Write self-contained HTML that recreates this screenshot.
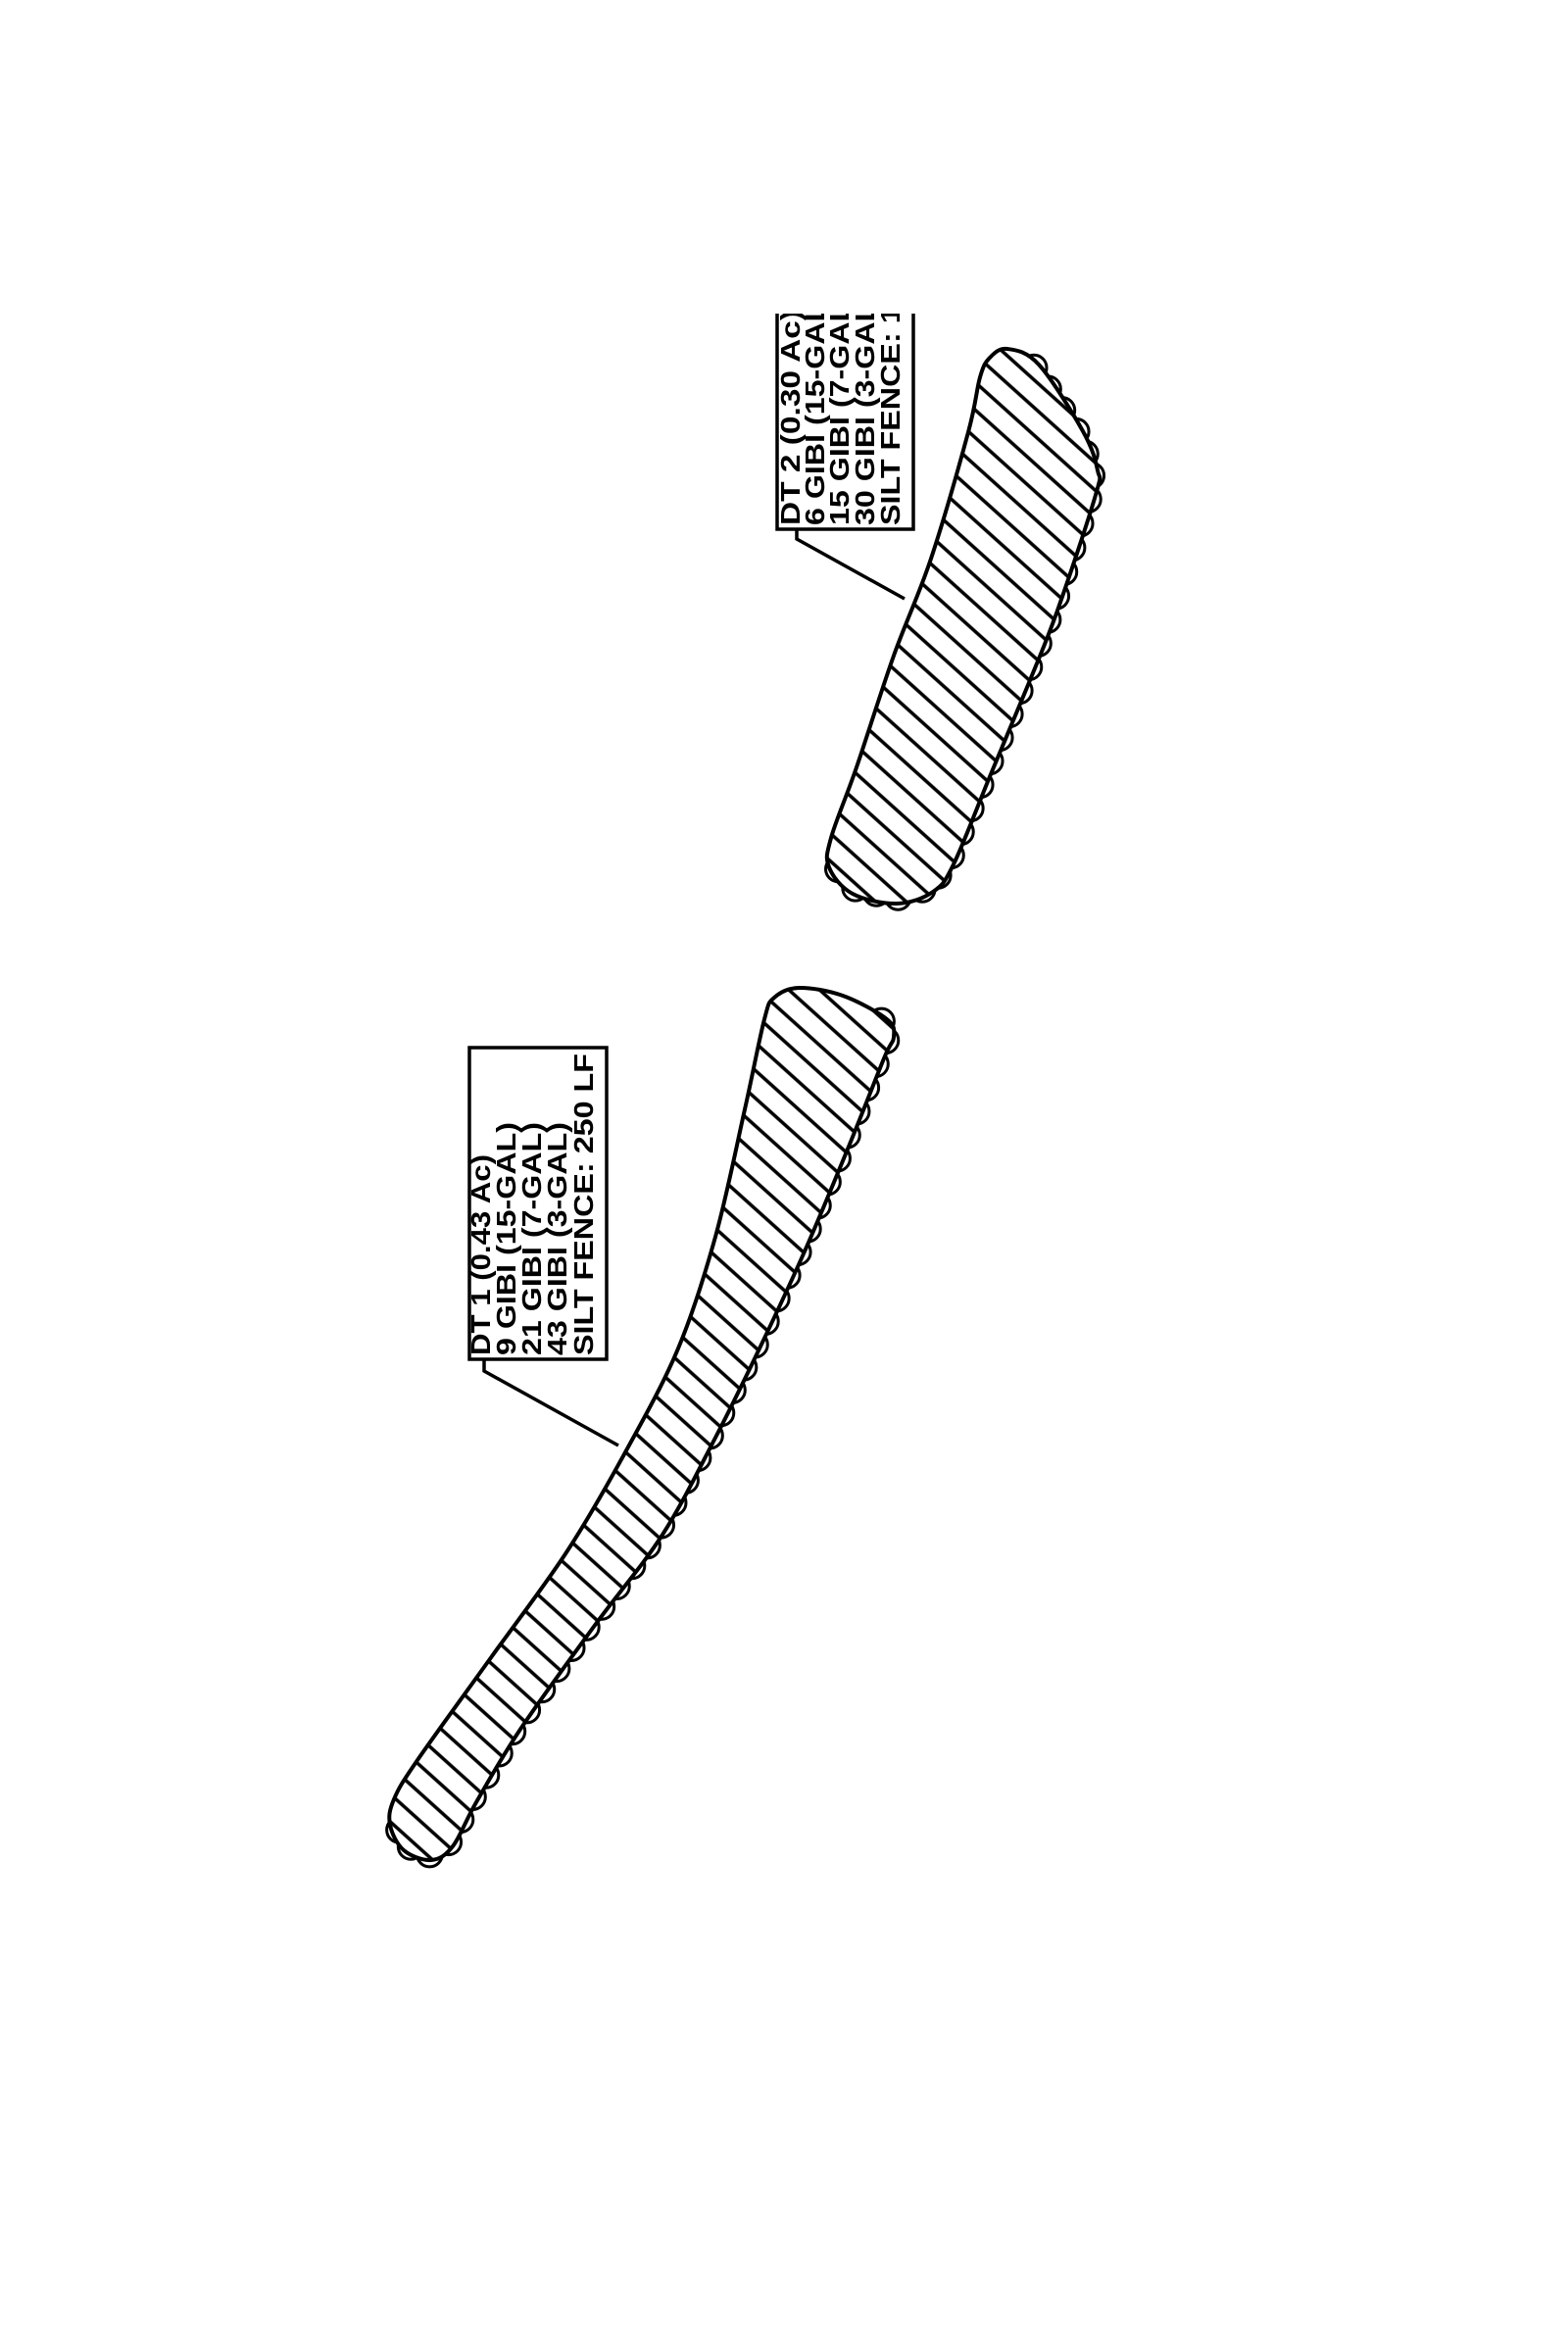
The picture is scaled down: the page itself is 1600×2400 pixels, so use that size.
<!DOCTYPE html>
<html>
<head>
<meta charset="utf-8">
<style>
  html, body { margin: 0; padding: 0; background: #fff; }
  svg { display: block; }
  text { font-family: "Liberation Sans", "DejaVu Sans", sans-serif; font-weight: bold; font-size: 28px; fill: #000; }
</style>
</head>
<body>
<svg id="plan" width="1600" height="2400" viewBox="0 0 1600 2400" xmlns="http://www.w3.org/2000/svg">
  <defs>
    <pattern id="hatch" patternUnits="userSpaceOnUse" width="21" height="21" patternTransform="rotate(42)">
      <line x1="0" y1="2" x2="21" y2="2" stroke="#000" stroke-width="3.5"/>
    </pattern>
    <clipPath id="viewClip"><rect x="0" y="320" width="1600" height="2080"/></clipPath>
  </defs>
  <g id="scallops" fill="#fff" stroke="#000" stroke-width="3"></g>
  <g id="areas"></g>

  <g>
    <rect x="479" y="1069" width="140" height="318" fill="#fff" stroke="#000" stroke-width="3.5"/>
    <polyline points="494,1387 494,1399 631,1475" fill="none" stroke="#000" stroke-width="3.5"/>
    <text transform="translate(500,1383) rotate(-90)" textLength="205" lengthAdjust="spacingAndGlyphs">DT 1 (0.43 Ac)</text>
    <text transform="translate(526,1383) rotate(-90)" textLength="238" lengthAdjust="spacingAndGlyphs">9 GIBI (15-GAL)</text>
    <text transform="translate(552,1383) rotate(-90)" textLength="238" lengthAdjust="spacingAndGlyphs">21 GIBI (7-GAL)</text>
    <text transform="translate(578,1383) rotate(-90)" textLength="238" lengthAdjust="spacingAndGlyphs">43 GIBI (3-GAL)</text>
    <text transform="translate(605,1383) rotate(-90)" textLength="308" lengthAdjust="spacingAndGlyphs">SILT FENCE: 250 LF</text>
  </g>

  <g clip-path="url(#viewClip)">
    <rect x="793" y="300" width="139" height="240" fill="#fff" stroke="#000" stroke-width="3.5"/>
    <polyline points="813,540 813,550 923,611" fill="none" stroke="#000" stroke-width="3.5"/>
    <text transform="translate(816,536) rotate(-90)" textLength="220" lengthAdjust="spacingAndGlyphs">DT 2 (0.30 Ac)</text>
    <text transform="translate(841,536) rotate(-90)" textLength="238" lengthAdjust="spacingAndGlyphs">6 GIBI (15-GAL)</text>
    <text transform="translate(866,536) rotate(-90)" textLength="238" lengthAdjust="spacingAndGlyphs">15 GIBI (7-GAL)</text>
    <text transform="translate(892,536) rotate(-90)" textLength="238" lengthAdjust="spacingAndGlyphs">30 GIBI (3-GAL)</text>
    <text transform="translate(918,536) rotate(-90)" textLength="308" lengthAdjust="spacingAndGlyphs">SILT FENCE: 150 LF</text>
  </g>
</svg>
<script>
const NS = 'http://www.w3.org/2000/svg';
const dt1Outline = [[790,1018],[815,1008],[860,1016],[905,1040],[912,1058],[902,1080],[866,1170],[821,1277],[775,1376],[730,1467],[676,1566],[608,1657],[532,1763],[486,1839],[462,1884],[440,1898],[412,1888],[398,1862],[402,1836],[426,1796],[502,1690],[578,1584],[638,1482],[692,1376],[730,1262],[760,1132],[780,1040]];
const dt1Fence = [[905,1040],[912,1058],[902,1080],[866,1170],[821,1277],[775,1376],[730,1467],[676,1566],[608,1657],[532,1763],[486,1839],[462,1884],[440,1898],[412,1888],[398,1862]];
const dt2Outline = [[1010,365],[1028,356],[1060,372],[1105,440],[1120,480],[1118,505],[1079,623],[1049,699],[1011,790],[973,882],[952,910],[915,922],[870,912],[846,885],[848,855],[874,783],[912,669],[950,570],[988,441],[1000,385]];
const dt2Fence = [[1060,372],[1105,440],[1120,480],[1118,505],[1079,623],[1049,699],[1011,790],[973,882],[952,910],[915,922],[870,912],[846,885]];

const areas = document.getElementById('areas');
const scallops = document.getElementById('scallops');

function smoothPath(pts) {
  const n = pts.length;
  let d = 'M' + pts[0][0] + ',' + pts[0][1];
  for (let i = 0; i < n; i++) {
    const p0 = pts[(i - 1 + n) % n], p1 = pts[i], p2 = pts[(i + 1) % n], p3 = pts[(i + 2) % n];
    const c1 = [p1[0] + (p2[0] - p0[0]) / 6, p1[1] + (p2[1] - p0[1]) / 6];
    const c2 = [p2[0] - (p3[0] - p1[0]) / 6, p2[1] - (p3[1] - p1[1]) / 6];
    d += ' C' + c1.join(',') + ' ' + c2.join(',') + ' ' + p2.join(',');
  }
  return d + 'Z';
}
function drawArea(pts, name) {
  const d = smoothPath(pts);
  const bg = document.createElementNS(NS, 'path');
  bg.setAttribute('d', d);
  bg.setAttribute('fill', '#fff');
  
  
  areas.appendChild(bg);
  const p = document.createElementNS(NS, 'path');
  p.setAttribute('d', d);
  p.setAttribute('fill', 'url(#hatch)');
  p.setAttribute('stroke', '#000');
  p.setAttribute('stroke-width', '4');
  p.setAttribute('stroke-linejoin', 'round');
  
  
  areas.appendChild(p);
}
function drawFence(pts, name) {
  const step = 26;
  let carry = 0;
  for (let i = 0; i < pts.length - 1; i++) {
    const [x1, y1] = pts[i], [x2, y2] = pts[i + 1];
    const len = Math.hypot(x2 - x1, y2 - y1);
    const nx = (y2 - y1) / len, ny = -(x2 - x1) / len;
    let d = carry;
    for (; d < len; d += step) {
      const t = d / len;
      const c = document.createElementNS(NS, 'circle');
      c.setAttribute('cx', x1 + (x2 - x1) * t - nx * 6);
      c.setAttribute('cy', y1 + (y2 - y1) * t - ny * 6);
      c.setAttribute('r', 13);
      
      
      scallops.appendChild(c);
    }
    carry = d - len;
  }
}
drawFence(dt1Fence, 'dt1-silt-fence-scallop');
drawFence(dt2Fence, 'dt2-silt-fence-scallop');
drawArea(dt1Outline, 'dt1-detention-area');
drawArea(dt2Outline, 'dt2-detention-area');
</script>
</body>
</html>
